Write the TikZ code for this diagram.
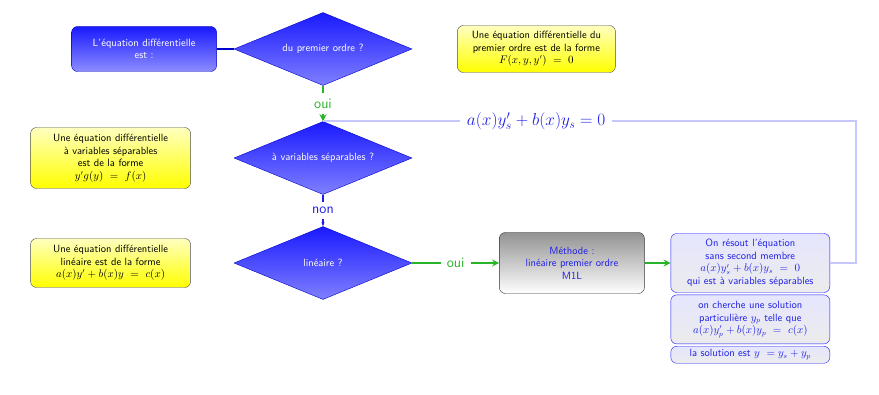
\documentclass[tikz,border=0pt]{standalone}
\usepackage{amsmath,amssymb}
\usepackage{xcolor}
\usepackage{tikz}
\usetikzlibrary{shapes.geometric, arrows.meta, positioning, calc}
\renewcommand{\familydefault}{\sfdefault}
\definecolor{vertoui}{RGB}{40,180,40}
\definecolor{bleutexte}{RGB}{30,30,230}
\newcommand{\boitefont}{\fontsize{10.5}{12.5}\selectfont}
\tikzstyle{debut} = [rectangle, rounded corners=6pt, minimum width=145pt, minimum height=45pt, text centered, align=center, draw=blue!70!black, top color=blue!90, bottom color=blue!45, text=white, font=\boitefont]
\tikzstyle{question} = [diamond, aspect=2.4, minimum width=178pt, minimum height=73pt, inner sep=0pt, text centered, draw=blue!80!black, top color=blue!90, bottom color=blue!50, text=white, font=\boitefont]
\tikzstyle{forme} = [rectangle, rounded corners=6pt, minimum width=160pt, text centered, align=center, draw=black!70, top color=yellow!25, bottom color=yellow, font=\boitefont, inner sep=2pt]
\tikzstyle{methodeb} = [rectangle, rounded corners=6pt, minimum width=145pt, minimum height=61pt, text centered, align=center, draw=black!80, top color=gray!85, bottom color=white, text=bleutexte, font=\boitefont]
\tikzstyle{etape} = [rectangle, rounded corners=6pt, minimum width=159pt, text centered, align=center, draw=blue!90, top color=blue!10, bottom color=gray!15, text=bleutexte, font=\boitefont, inner sep=1pt]
\tikzstyle{lien} = [line width=1.5pt, draw=blue!80!black]
\tikzstyle{vert} = [line width=1.5pt, vertoui, -{Stealth[length=7pt,width=7pt]}]
\tikzstyle{bleu} = [line width=1.5pt, bleutexte, -{Stealth[length=4pt]}]
\tikzstyle{retour} = [line width=2pt, blue!22]

\begin{document}
\begin{tikzpicture}[x=1pt, y=1pt, node distance=107pt]
\useasboundingbox (-323,-346) rectangle (556,49);

% Questions
\node (ordre) [question] {du premier ordre ?};
\node (sepq) [question, below of=ordre, yshift=-2pt] {\`a variables s\'eparables ?};
\node (linq) [question, below of=sepq, yshift=2pt] {lin\'eaire ?};

% Definitions
\node (start) [debut, left=17pt of ordre] {L'\'equation diff\'erentielle\\est :};
\node (formeun) [forme, right=45pt of ordre, minimum width=158pt, minimum height=47pt] {Une \'equation diff\'erentielle du\\premier ordre est de la forme\\$F(x,y,y')\ =\ 0$};
\node (formesep) [forme, left=43pt of sepq, minimum height=61pt] {Une \'equation diff\'erentielle\\\`a variables s\'eparables\\est de la forme\\$y'g(y)\ =\ f(x)$};
\node (formelin) [forme, left=43pt of linq, minimum height=49pt] {Une \'equation diff\'erentielle\\lin\'eaire est de la forme\\$a(x)y'+b(x)y\ =\ c(x)$};

% Methode
\node (methode) [methodeb, right=87pt of linq] {M\'ethode :\\lin\'eaire premier ordre\\M1L};
\node (ssm) [etape, right=26pt of methode, minimum height=59pt] {On r\'esout l'\'equation\\sans second membre\\$a(x)y_s'+b(x)y_s\ =\ 0$\\qui est \`a variables s\'eparables};
\node (partic) [etape, below=2pt of ssm, minimum height=49pt] {on cherche une solution\\particuli\`ere $y_p$ telle que\\$a(x)y_p'+b(x)y_p\ =\ c(x)$};
\node (sol) [etape, below=2pt of partic, minimum height=17pt] {la solution est $y\ =y_s+y_p$};

% Arrows
\draw [lien] (start) -- (ordre);
\draw [vert] (ordre) -- node[fill=white, font=\Large, inner sep=6pt] {oui} (sepq);
\draw [bleu] (sepq) -- node[fill=white, font=\Large, inner sep=5pt] {non} (linq);
\draw [vert] (linq) -- node[fill=white, font=\Large, inner sep=6pt] {oui} (methode);
\draw [vert] (methode) -- (ssm);
\draw [retour] (ssm.east) -- ++(26,0) |- node[pos=0.8, fill=white, text=bleutexte, font=\LARGE, inner sep=7pt] {$a(x)y_s'+b(x)y_s=0$} (sepq.north);

\end{tikzpicture}
\end{document}
